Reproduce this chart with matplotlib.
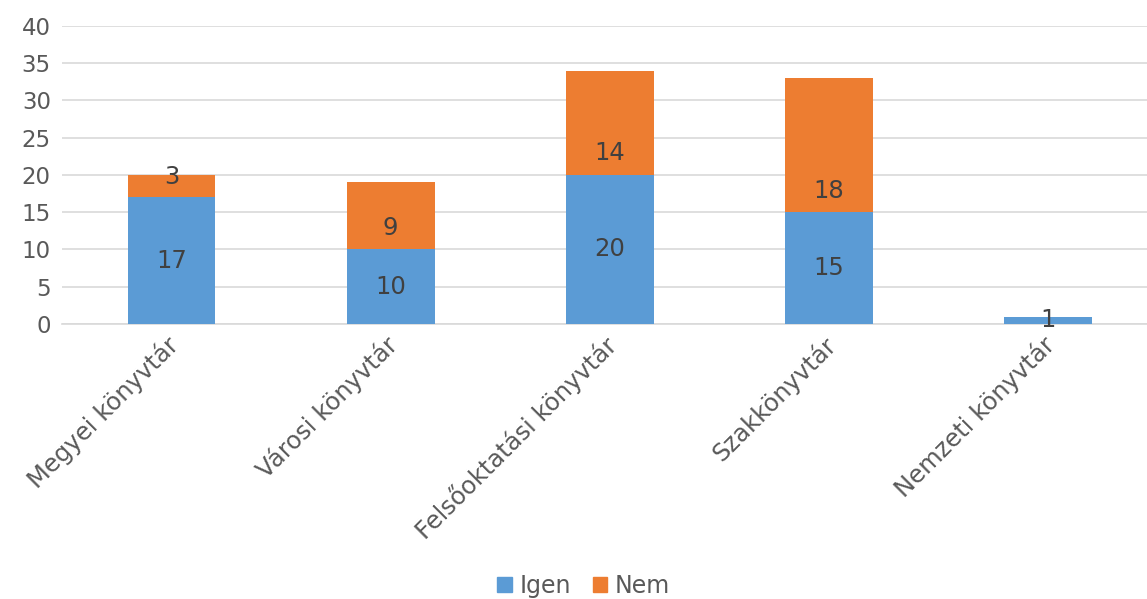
import matplotlib.pyplot as plt
import matplotlib.patches as mpatches
import matplotlib.transforms as mtransforms

# data
categories = ['Megyei könyvtár', 'Városi könyvtár', 'Felsőoktatási könyvtár',
              'Szakkönyvtár', 'Nemzeti könyvtár']
igen = [17, 10, 20, 15, 1]
nem = [3, 9, 14, 18, 0]
series_names = ['Igen', 'Nem']
# where the "Nem" value labels sit in the original (not at segment middle)
nem_label_pos = [19.7, 12.9, 23.0, 17.9, 0]

blue = '#5B9BD5'
orange = '#ED7D31'
text_col = '#595959'
fs = 17.5

fig = plt.figure(figsize=(11.47, 5.99), dpi=100)
# plot area runs a bit past the right edge of the image, as in the original
ax = fig.add_axes([0.054, 0.459, 0.9555, 0.498])

x = range(len(categories))
ax.bar(x, igen, width=0.4, color=blue, zorder=3)
ax.bar(x, nem, width=0.4, bottom=igen, color=orange, zorder=3)

# value labels
for i in x:
    if igen[i] > 0:
        ax.text(i, igen[i] / 2, str(igen[i]), ha='center', va='center',
                fontsize=fs, color='#404040', zorder=4)
    if nem[i] > 0:
        ax.text(i, nem_label_pos[i], str(nem[i]), ha='center', va='center',
                fontsize=fs, color='#404040', zorder=4)

ax.set_xlim(-0.5, len(categories) - 0.5)
ax.set_ylim(0, 40)
ax.set_yticks(range(0, 41, 5))
ax.grid(axis='y', color='#D9D9D9', linewidth=1.2, zorder=0)
ax.set_axisbelow(True)

for s in ['top', 'right', 'left']:
    ax.spines[s].set_visible(False)
ax.spines['bottom'].set_color('#D9D9D9')
ax.spines['bottom'].set_linewidth(1.2)

ax.set_xticks(list(x))
ax.set_xticklabels(categories, rotation=45, ha='right', rotation_mode='anchor')
ax.tick_params(axis='both', length=0, colors=text_col)
ax.tick_params(axis='x', pad=6, labelsize=17.5)
ax.tick_params(axis='y', pad=8, labelsize=16.5)

# nudge rotated labels a few pixels left
shift = mtransforms.ScaledTranslation(-6 / 100, 0, fig.dpi_scale_trans)
for lab in ax.get_xticklabels():
    lab.set_transform(lab.get_transform() + shift)

handles = [mpatches.Patch(color=blue, label=series_names[0]),
           mpatches.Patch(color=orange, label=series_names[1])]
fig.legend(handles=handles, loc='center', bbox_to_anchor=(0.509, 0.022),
           ncol=2, frameon=False, fontsize=17, handlelength=0.6,
           handleheight=0.6, handletextpad=0.35, columnspacing=0.9,
           labelcolor=text_col)

fig.savefig('out.png', dpi=100)
